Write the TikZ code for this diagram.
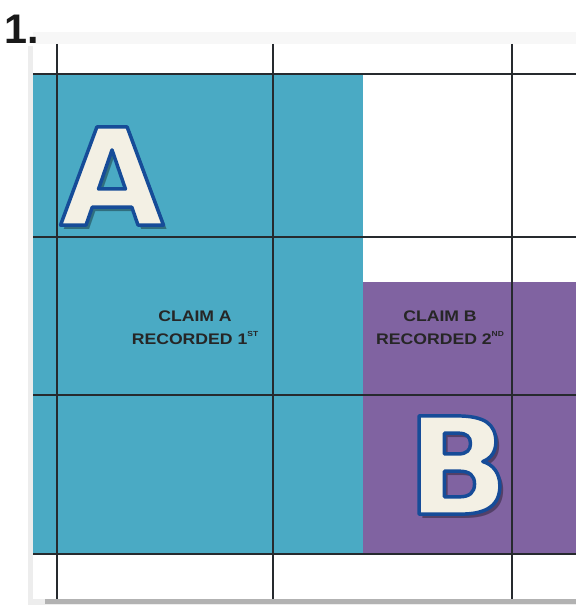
\documentclass[tikz,border=0pt]{standalone}
\usepackage{fontspec}
\setmainfont{Liberation Sans}
\newfontfamily\claimfont[FakeStretch=1.15]{Liberation Sans}
\newfontfamily\letterfont{DejaVu Sans}
\usetikzlibrary{positioning,calc}
\definecolor{claimA}{RGB}{74,170,196}
\definecolor{claimB}{RGB}{128,99,161}
\definecolor{letterfill}{RGB}{243,240,228}
\definecolor{letterline}{RGB}{22,76,152}
\definecolor{gridgrey}{RGB}{38,42,46}
% outlined letter: fill in the text colour, stroke in blue
\newcommand\outlined[1]{\special{pdf:literal direct 2 Tr 2.6 w 1 j 0.086 0.298 0.596 RG}#1\special{pdf:literal direct 0 Tr}}

\begin{document}
\begin{tikzpicture}[x=0.75pt,y=-0.75pt,
  gridline/.style={draw=gridgrey,line width=1.8pt},
  claimtext/.style={font=\claimfont\bfseries\fontsize{11.5}{17}\selectfont,align=center,text=black!85,inner sep=0pt},
  bigletter/.style={font=\letterfont\bfseries\fontsize{101}{101}\selectfont,inner sep=0pt}]
\useasboundingbox (0,0) rectangle (576,605);
% paper and its shadow
\fill[black!3] (33,32) rectangle (576,44);
\fill[black!7] (28,46) rectangle (576,605);
\fill[black!30] (45,598) rectangle (576,604);
\fill[white] (33,44) rectangle (576,599);
% the two claims
\fill[claimA] (33,74) rectangle (363,554);
\fill[claimB] (363,282) rectangle (576,554);
% grid
\foreach \x in {57,273,512}
  \draw[gridline] (\x,44) -- (\x,599);
\foreach \y in {74,237,395,554}
  \draw[gridline] (33,\y) -- (576,\y);
% labels
\node[font=\bfseries\fontsize{31}{31}\selectfont,text=black!90,anchor=base west,inner sep=0pt] (num) at (4,44) {1.};
\node[claimtext] (textA) at (195,328) {CLAIM A\\RECORDED 1\raisebox{1.05ex}{\fontsize{5.5}{6}\selectfont ST}};
\node[claimtext] (textB) at (440,328) {CLAIM B\\RECORDED 2\raisebox{1.05ex}{\fontsize{5.5}{6}\selectfont ND}};
% big letters
\node[bigletter,text=black,opacity=.35] (shadowA) at (116,180) {A};
\node[bigletter,text=black,opacity=.35] (shadowB) at (462,469) {B};
\node[bigletter,text=letterfill] (letterA) at (112,176) {\outlined{A}};
\node[bigletter,text=letterfill] (letterB) at (458,465) {\outlined{B}};
\end{tikzpicture}
\end{document}
